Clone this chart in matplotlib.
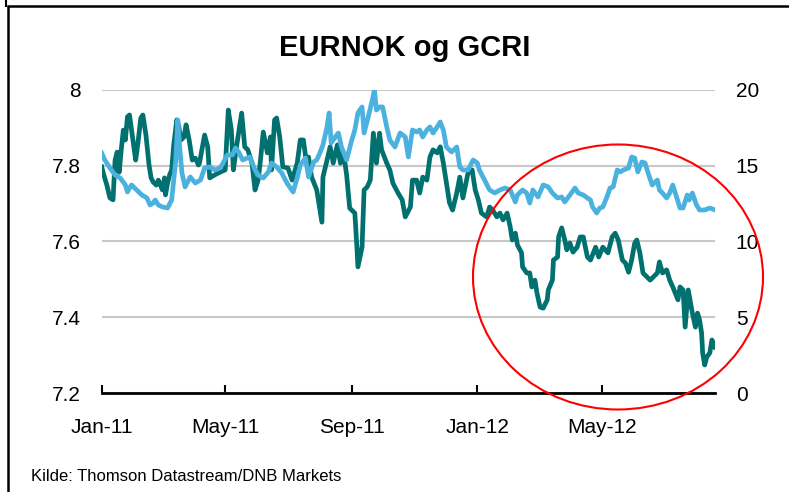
import matplotlib.pyplot as plt
import matplotlib.dates as mdates
from matplotlib.patches import Ellipse, Rectangle
from matplotlib.lines import Line2D
import pandas as pd

plt.rcParams['font.family'] = ['Liberation Sans', 'DejaVu Sans']

# EURNOK (venstre akse), dager etter 1. jan 2011
dag_eurnok = [0, 2, 5, 8, 11, 13, 15, 17, 19, 21, 23, 25, 27, 29, 31, 33, 35, 38, 40, 43,
              46, 48, 50, 53, 55, 57, 59, 61, 62, 64, 66, 68, 70, 73, 75, 77, 80, 82, 85, 88,
              91, 94, 95, 100, 103, 105, 110, 115, 120, 123, 126, 128, 131, 136, 139, 142, 146, 149, 152, 154,
              157, 161, 164, 165, 168, 170, 173, 176, 181, 185, 190, 193, 196, 199, 201, 204, 209, 214, 215, 219,
              222, 225, 229, 232, 235, 238, 241, 246, 248, 249, 253, 255, 258, 261, 264, 267, 270, 272, 277, 280,
              283, 288, 292, 295, 300, 302, 306, 309, 312, 316, 319, 322, 326, 329, 332, 335, 338, 341, 345, 348,
              351, 356, 360, 363, 366, 369, 374, 377, 380, 384, 387, 390, 394, 397, 399, 402, 404, 408, 409, 413,
              416, 418, 421, 423, 426, 429, 433, 434, 438, 439, 443, 444, 447, 450, 452, 455, 458, 462, 465, 468,
              472, 475, 480, 483, 487, 492, 496, 499, 502, 506, 509, 512, 515, 518, 520, 523, 526, 530, 533, 536,
              540, 542, 545, 549, 552, 555, 559, 560, 562, 565, 567, 570, 574, 577, 579, 581, 583, 584, 586, 588,
              591, 593, 596]
eurnok = [7.797, 7.776, 7.749, 7.715, 7.710, 7.815, 7.836, 7.783, 7.842, 7.894, 7.868, 7.929, 7.934, 7.894, 7.855, 7.815, 7.855, 7.926, 7.934, 7.881,
          7.802, 7.768, 7.757, 7.749, 7.762, 7.749, 7.736, 7.768, 7.723, 7.754, 7.776, 7.789, 7.855, 7.921, 7.902, 7.868, 7.876, 7.908, 7.868, 7.815,
          7.820, 7.802, 7.807, 7.881, 7.850, 7.768, 7.776, 7.783, 7.789, 7.947, 7.894, 7.789, 7.850, 7.939, 7.850, 7.842, 7.807, 7.736, 7.762, 7.807,
          7.889, 7.834, 7.876, 7.789, 7.921, 7.926, 7.876, 7.797, 7.794, 7.762, 7.807, 7.868, 7.868, 7.807, 7.823, 7.770, 7.736, 7.651, 7.770, 7.815,
          7.850, 7.807, 7.855, 7.807, 7.834, 7.776, 7.688, 7.675, 7.585, 7.533, 7.585, 7.736, 7.744, 7.762, 7.886, 7.807, 7.886, 7.842, 7.807, 7.789,
          7.754, 7.728, 7.710, 7.665, 7.691, 7.762, 7.762, 7.728, 7.770, 7.762, 7.823, 7.842, 7.834, 7.850, 7.807, 7.754, 7.702, 7.683, 7.728, 7.770,
          7.715, 7.781, 7.789, 7.736, 7.710, 7.675, 7.665, 7.691, 7.683, 7.665, 7.675, 7.657, 7.675, 7.638, 7.604, 7.622, 7.591, 7.570, 7.533, 7.517,
          7.517, 7.480, 7.498, 7.464, 7.427, 7.424, 7.446, 7.472, 7.498, 7.551, 7.559, 7.612, 7.636, 7.604, 7.578, 7.596, 7.572, 7.585, 7.612, 7.612,
          7.559, 7.551, 7.585, 7.559, 7.585, 7.570, 7.612, 7.622, 7.604, 7.551, 7.543, 7.519, 7.551, 7.596, 7.604, 7.570, 7.517, 7.506, 7.498, 7.506,
          7.517, 7.546, 7.517, 7.525, 7.498, 7.480, 7.453, 7.446, 7.480, 7.472, 7.374, 7.472, 7.411, 7.374, 7.411, 7.393, 7.358, 7.306, 7.274, 7.295,
          7.306, 7.340, 7.321]

# GCRI (hoyre akse)
dag_gcri = [0, 3, 8, 13, 18, 23, 25, 27, 29, 34, 39, 44, 47, 50, 52, 55, 59, 64, 68, 72,
            74, 76, 78, 81, 86, 91, 96, 100, 105, 110, 115, 118, 122, 127, 130, 133, 137, 144, 149, 152,
            157, 162, 165, 170, 175, 180, 186, 190, 193, 198, 201, 206, 209, 212, 215, 219, 221, 223, 227, 230,
            233, 238, 243, 246, 249, 253, 255, 259, 263, 265, 267, 270, 273, 277, 280, 285, 290, 295, 298, 302,
            306, 309, 312, 316, 319, 322, 326, 329, 332, 335, 340, 345, 348, 351, 356, 361, 365, 367, 372, 377,
            382, 387, 392, 397, 402, 404, 409, 413, 416, 419, 424, 429, 434, 438, 443, 447, 450, 455, 460, 463,
            468, 472, 475, 477, 481, 484, 487, 491, 494, 497, 501, 504, 507, 512, 515, 518, 521, 525, 528, 531,
            535, 540, 542, 545, 549, 552, 555, 559, 562, 565, 569, 571, 574, 578, 581, 586, 591, 596]
gcri = [15.84, 15.38, 14.85, 14.39, 14.19, 13.73, 13.27, 13.53, 13.73, 13.40, 13.07, 12.87, 12.41, 12.54, 12.74, 12.41, 12.28, 12.21, 12.74, 15.38,
        18.02, 16.04, 14.52, 13.60, 14.26, 13.86, 14.06, 14.85, 14.92, 14.72, 14.85, 15.18, 15.71, 15.71, 16.17, 15.91, 15.38, 15.58, 14.72, 14.39,
        14.19, 14.59, 15.18, 14.92, 14.52, 13.86, 13.27, 14.19, 15.05, 15.51, 14.26, 15.25, 15.38, 15.84, 16.37, 17.56, 18.48, 16.50, 16.90, 17.16,
        16.24, 15.38, 16.70, 17.36, 18.48, 18.88, 17.16, 18.22, 19.34, 20.00, 18.68, 18.88, 18.88, 17.56, 16.70, 16.24, 17.16, 16.90, 15.58, 17.36,
        17.23, 17.36, 16.90, 17.36, 17.56, 17.16, 17.56, 17.89, 17.36, 16.24, 15.91, 16.24, 14.92, 14.72, 14.72, 15.38, 15.18, 14.72, 14.06, 13.40,
        13.20, 13.40, 13.53, 13.40, 12.61, 13.07, 13.40, 13.20, 12.54, 13.40, 12.94, 13.73, 13.60, 13.20, 12.87, 12.94, 12.61, 13.07, 13.53, 13.20,
        13.07, 12.87, 12.74, 12.28, 11.88, 12.21, 12.28, 12.94, 13.53, 13.60, 14.72, 14.59, 14.72, 14.85, 15.58, 15.51, 14.59, 15.25, 15.18, 14.52,
        13.73, 14.06, 13.40, 13.20, 12.87, 13.20, 13.73, 12.87, 12.21, 12.21, 13.07, 12.74, 13.20, 12.41, 12.08, 12.08, 12.21, 12.08]

venstre_ticks = [7.2, 7.4, 7.6, 7.8, 8.0]
venstre_labels = ['7.2', '7.4', '7.6', '7.8', '8']
hoyre_ticks = [0, 5, 10, 15, 20]

start = pd.Timestamp('2011-01-01')
x1 = start + pd.to_timedelta(dag_eurnok, unit='D')
x2 = start + pd.to_timedelta(dag_gcri, unit='D')

teal = '#00716f'
blaa = '#4bb1df'

fig = plt.figure(figsize=(7.89, 4.92), dpi=100)
ax = fig.add_axes([0.1289, 0.2012, 0.7773, 0.6159])
ax2 = ax.twinx()

ax.plot(x1, eurnok, color=teal, lw=3.4, solid_joinstyle='round', zorder=3)
ax2.plot(x2, gcri, color=blaa, lw=3.4, solid_joinstyle='round', zorder=3)

ax.set_xlim(start, start + pd.Timedelta(days=596))
ax.set_ylim(7.2, 8.0)
ax2.set_ylim(0, 20)
ax.set_yticks(venstre_ticks)
ax.set_yticklabels(venstre_labels)
ax2.set_yticks(hoyre_ticks)

ax.grid(axis='y', color='#c8c8c8', lw=1.5)
ax.set_axisbelow(True)

for a in (ax, ax2):
    for s in ['top', 'left', 'right']:
        a.spines[s].set_visible(False)
ax2.spines['bottom'].set_visible(False)
ax.spines['bottom'].set_linewidth(2)
ax.spines['bottom'].set_color('black')

ax.xaxis.set_major_locator(mdates.MonthLocator(bymonth=[1, 5, 9]))
ax.xaxis.set_major_formatter(mdates.DateFormatter('%b-%y'))
ax.tick_params(axis='x', direction='in', length=6, width=1.5, pad=18, labelsize=15)
ax.tick_params(axis='y', length=0, pad=15, labelsize=15)
ax2.tick_params(axis='y', length=0, pad=15, labelsize=15)

fig.text(0.513, 0.902, 'EURNOK og GCRI', ha='center', va='center', fontsize=21, fontweight='bold')
fig.text(0.039, 0.032, 'Kilde: Thomson Datastream/DNB Markets', ha='left', va='center', fontsize=12)

# rod ring rundt 2012
ring = Ellipse((618 / 789, 1 - 277 / 492), 290 / 789, 265 / 492, transform=fig.transFigure,
               fill=False, edgecolor='#ff0000', lw=1.5, clip_on=False, zorder=10)
fig.patches.append(ring)

# ramme
ramme = Rectangle((8 / 789, -0.1), 1.2, 1 - 6 / 492 + 0.1, transform=fig.transFigure,
                  fill=False, edgecolor='black', lw=1.8, clip_on=False)
fig.patches.append(ramme)
fig.lines.append(Line2D([6 / 789, 6 / 789], [1 - 6 / 492, 1.0], transform=fig.transFigure,
                        color='black', lw=1.5))

fig.savefig('out.png', dpi=100)
